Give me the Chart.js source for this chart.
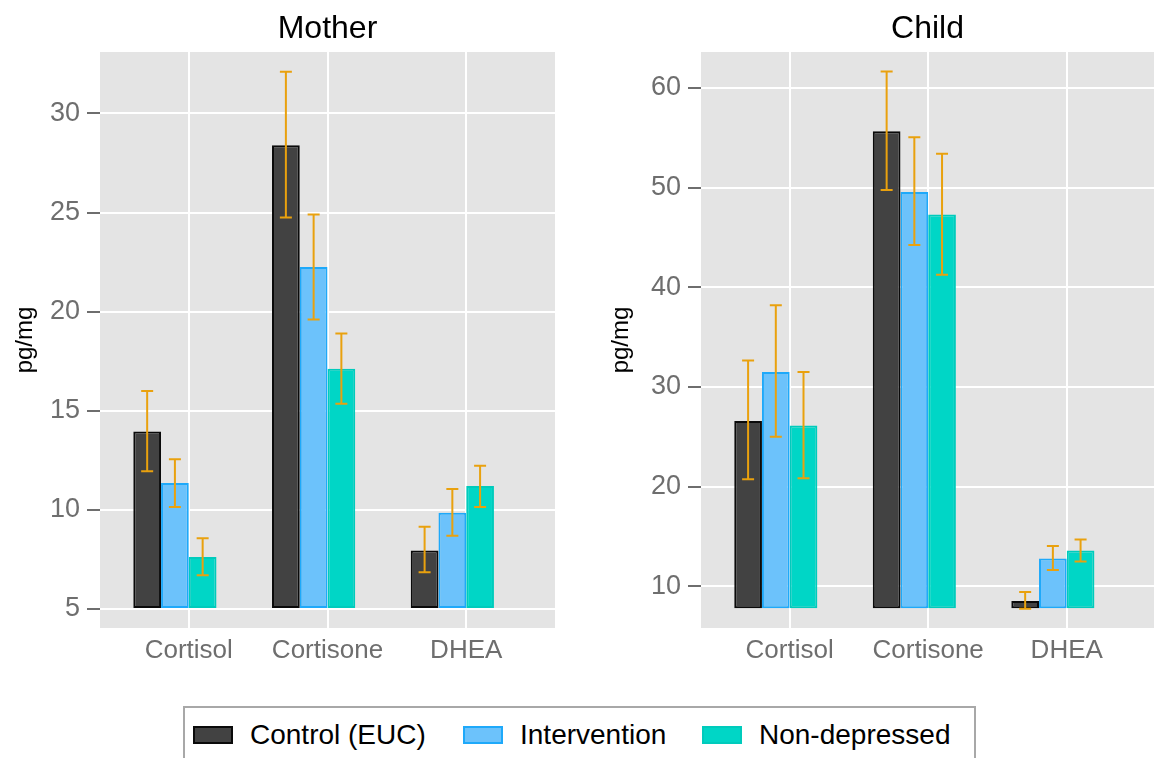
<!DOCTYPE html>
<html>
<head>
<meta charset="utf-8">
<script src="https://cdn.jsdelivr.net/npm/chart.js@4/dist/chart.umd.min.js"></script>
<style>
  body { margin: 0; background: #fff; width: 1154px; height: 758px; overflow: hidden; position: relative; font-family: "Liberation Sans", Arial, sans-serif; }
  #wrapMother { position: absolute; left: 0; top: 0; width: 575px; height: 700px; }
  #wrapChild { position: absolute; left: 596px; top: 0; width: 558px; height: 700px; }
  #legend { position: absolute; left: 183px; top: 706px; width: 793px; height: 80px; border: 2px solid #a8a8a8; box-sizing: border-box; }
  .item { position: absolute; top: 11px; display: flex; align-items: center; font-size: 28px; color: #000; }
  .sw { width: 40px; height: 18px; margin-right: 17px; box-sizing: border-box; border: 2px solid; }
</style>
</head>
<body>
<div id="wrapMother"><canvas id="motherChart"></canvas></div>
<div id="wrapChild"><canvas id="childChart"></canvas></div>
<div id="legend"></div>

<script>
var categories = ['Cortisol', 'Cortisone', 'DHEA'];
var groups = ['Control (EUC)', 'Intervention', 'Non-depressed'];

// Mother (pg/mg), bars start at 5
var motherBase = 5;
var motherTicks = [5, 10, 15, 20, 25, 30];
var motherCtl = [13.95, 28.4, 7.95];
var motherCtlLo = [11.95, 24.75, 6.85];
var motherCtlHi = [16.0, 32.1, 9.15];
var motherInt = [11.35, 22.25, 9.85];
var motherIntLo = [10.15, 19.6, 8.7];
var motherIntHi = [12.55, 24.9, 11.05];
var motherNon = [7.62, 17.12, 11.2];
var motherNonLo = [6.7, 15.35, 10.15];
var motherNonHi = [8.57, 18.9, 12.22];

// Child (pg/mg), bars start at 7.8
var childBase = 7.8;
var childTicks = [10, 20, 30, 40, 50, 60];
var childCtl = [26.6, 55.65, 8.55];
var childCtlLo = [20.75, 49.75, 7.75];
var childCtlHi = [32.65, 61.65, 9.45];
var childInt = [31.5, 49.55, 12.8];
var childIntLo = [25.0, 44.25, 11.65];
var childIntHi = [38.2, 55.05, 14.05];
var childNon = [26.15, 47.3, 13.6];
var childNonLo = [20.85, 41.25, 12.5];
var childNonHi = [31.5, 53.4, 14.7];

var fills = ['#424242', '#6cc2fb', '#00d6c6'];
var borders = ['#0a0a0a', '#1ea9fa', '#00cbbc'];
var errColor = '#e9a10e';
var font = '"Liberation Sans", Arial, sans-serif';

var panelBg = {
    id: 'panelBg',
    beforeDraw: function (chart) {
        var a = chart.chartArea, c = chart.ctx;
        c.save();
        c.fillStyle = '#e4e4e4';
        c.fillRect(a.left, a.top, a.right - a.left, a.bottom - a.top);
        c.restore();
    }
};

var errorBars = {
    id: 'errorBars',
    afterDatasetsDraw: function (chart) {
        var c = chart.ctx, y = chart.scales.y;
        c.save();
        c.strokeStyle = errColor;
        c.lineWidth = 2;
        chart.data.datasets.forEach(function (ds, i) {
            if (!ds.errLo) return;
            chart.getDatasetMeta(i).data.forEach(function (bar, j) {
                var y1 = y.getPixelForValue(ds.errLo[j]);
                var y2 = y.getPixelForValue(ds.errHi[j]);
                c.beginPath();
                c.moveTo(bar.x, y1); c.lineTo(bar.x, y2);
                c.moveTo(bar.x - 6, y1); c.lineTo(bar.x + 6, y1);
                c.moveTo(bar.x - 6, y2); c.lineTo(bar.x + 6, y2);
                c.stroke();
            });
        });
        c.restore();
    }
};

var panelTitle = {
    id: 'panelTitle',
    afterDraw: function (chart, args, opts) {
        var a = chart.chartArea, c = chart.ctx;
        c.save();
        c.fillStyle = '#000';
        c.font = '32px ' + font;
        c.textAlign = 'center';
        c.textBaseline = 'alphabetic';
        c.fillText(opts.text, (a.left + a.right) / 2, 38);
        c.restore();
    }
};

function points(vals) {
    return vals.map(function (v, i) { return { x: i + 1, y: v }; });
}

function makeSet(k, vals, lo, hi, base) {
    return {
        label: groups[k],
        data: points(vals),
        base: base,
        errLo: lo,
        errHi: hi,
        backgroundColor: fills[k],
        borderColor: borders[k],
        borderWidth: 2,
        borderSkipped: false
    };
}

function makeChart(id, title, sets, yMin, yMax, yTicks, xMax, yWidth, padRight) {
    return new Chart(document.getElementById(id).getContext('2d'), {
        type: 'bar',
        data: {
            datasets: sets.concat([{ label: '', data: [] }])   // empty 4th slot, as in the original dodge
        },
        options: {
            responsive: true,
            maintainAspectRatio: false,
            animation: false,
            categoryPercentage: 0.8,
            barPercentage: 1.0,
            layout: { padding: { top: 52, right: padRight, left: 0, bottom: 0 } },
            plugins: {
                legend: { display: false },
                tooltip: { enabled: false },
                panelTitle: { text: title }
            },
            scales: {
                x: {
                    type: 'linear',
                    min: 0.36,
                    max: xMax,
                    offset: false,
                    afterBuildTicks: function (axis) {
                        axis.ticks = categories.map(function (c, i) { return { value: i + 1 }; });
                    },
                    afterFit: function (axis) { axis.height = 72; },
                    ticks: {
                        callback: function (v) { return categories[v - 1]; },
                        color: '#6e6e6e',
                        font: { family: font, size: 26 },
                        padding: 3,
                        maxRotation: 0
                    },
                    grid: { color: '#ffffff', lineWidth: 2, offset: false, drawTicks: true, tickLength: 4, tickColor: 'rgba(0,0,0,0)' },
                    border: { display: false }
                },
                y: {
                    min: yMin,
                    max: yMax,
                    afterBuildTicks: function (axis) {
                        axis.ticks = yTicks.map(function (v) { return { value: v }; });
                    },
                    afterFit: function (axis) { axis.width = yWidth; },
                    ticks: {
                        color: '#6e6e6e',
                        font: { family: font, size: 27 },
                        padding: 7
                    },
                    grid: { color: '#ffffff', lineWidth: 2, tickLength: 13, tickColor: '#6e6e6e' },
                    border: { display: false },
                    title: {
                        display: true,
                        text: 'pg/mg',
                        color: '#000',
                        font: { family: font, size: 24 },
                        padding: { top: 11, bottom: 0 }
                    }
                }
            }
        },
        plugins: [panelBg, errorBars, panelTitle]
    });
}

makeChart('motherChart', 'Mother', [
    makeSet(0, motherCtl, motherCtlLo, motherCtlHi, motherBase),
    makeSet(1, motherInt, motherIntLo, motherIntHi, motherBase),
    makeSet(2, motherNon, motherNonLo, motherNonHi, motherBase)
], 4.04, 33.1, motherTicks, 3.64, 100, 20);

makeChart('childChart', 'Child', [
    makeSet(0, childCtl, childCtlLo, childCtlHi, childBase),
    makeSet(1, childInt, childIntLo, childIntHi, childBase),
    makeSet(2, childNon, childNonLo, childNonHi, childBase)
], 5.83, 63.6, childTicks, 3.63, 105, 0);

// legend
var legend = document.getElementById('legend');
var lefts = [8, 278, 517];
groups.forEach(function (g, k) {
    var item = document.createElement('div');
    item.className = 'item';
    item.style.left = lefts[k] + 'px';
    item.innerHTML = '<span class="sw" style="background:' + fills[k] + ';border-color:' + borders[k] + '"></span><span>' + g + '</span>';
    legend.appendChild(item);
});
</script>
</body>
</html>
